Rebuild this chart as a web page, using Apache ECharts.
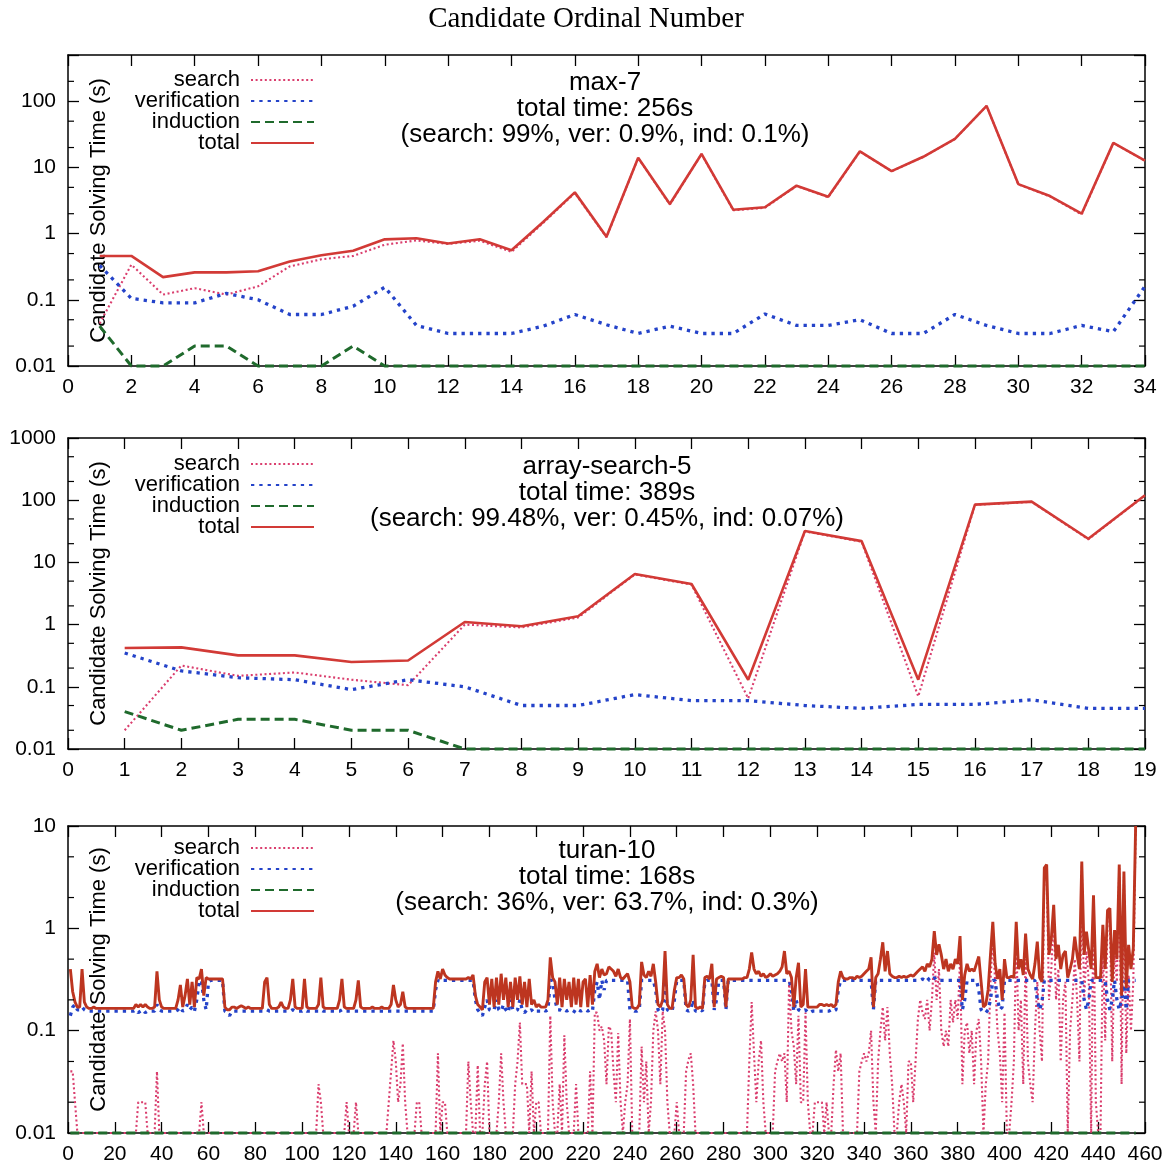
<!DOCTYPE html>
<html><head><meta charset="utf-8">
<script src="https://cdn.jsdelivr.net/npm/echarts/dist/echarts.min.js"></script>
<style>html,body{margin:0;padding:0;background:#fff}#main{width:1172px;height:1170px}</style>
</head><body><div id="main"></div>
<script>
// ---------------- Panel 1: max-7 ----------------
const max7X = [1,2,3,4,5,6,7,8,9,10,11,12,13,14,15,16,17,18,19,20,21,22,23,24,25,26,27,28,29,30,31,32,33,34];
const max7Search = [0.044,0.34,0.12,0.15,0.12,0.16,0.32,0.41,0.46,0.68,0.79,0.7,0.78,0.53,1.45,4.1,0.88,13.9,2.75,15.9,2.25,2.45,5.25,3.55,17.4,8.75,14.4,26.9,84.9,5.55,3.65,1.95,23.4,12.6];
const max7Verification = [0.33,0.105,0.09,0.09,0.125,0.1,0.06,0.06,0.08,0.155,0.041,0.031,0.031,0.031,0.04,0.06,0.042,0.031,0.04,0.031,0.031,0.061,0.041,0.041,0.05,0.031,0.031,0.06,0.041,0.031,0.031,0.041,0.033,0.16];
const max7Induction = [0.04,0.01,0.01,0.02,0.02,0.01,0.01,0.01,0.02,0.01,0.01,0.01,0.01,0.01,0.01,0.01,0.01,0.01,0.01,0.01,0.01,0.01,0.01,0.01,0.01,0.01,0.01,0.01,0.01,0.01,0.01,0.01,0.01,0.01];
const max7Total = [0.46,0.46,0.22,0.26,0.26,0.27,0.38,0.47,0.55,0.82,0.85,0.71,0.82,0.56,1.5,4.2,0.9,14,2.8,16,2.3,2.5,5.3,3.6,17.5,8.8,14.5,27,85,5.6,3.7,2.0,23.5,12.7];
const max7Minor = [0.02,0.05,0.2,0.5,2,5,20,50,200];

// ---------------- Panel 2: array-search-5 ----------------
const arrX = [1,2,3,4,5,6,7,8,9,10,11,12,13,14,15,16,17,18,19];
const arrSearch = [0.02,0.22,0.15,0.17,0.13,0.106,1.0,0.9,1.3,6.4,4.4,0.065,31.5,21.5,0.07,84,94,23.5,119];
const arrVerification = [0.35,0.18,0.14,0.13,0.09,0.13,0.1,0.05,0.05,0.075,0.06,0.06,0.05,0.045,0.052,0.052,0.062,0.045,0.045];
const arrInduction = [0.04,0.02,0.03,0.03,0.02,0.02,0.01,0.01,0.01,0.01,0.01,0.01,0.01,0.01,0.01,0.01,0.01,0.01,0.01];
const arrTotal = [0.42,0.43,0.32,0.32,0.25,0.265,1.1,0.94,1.36,6.5,4.5,0.13,32,22,0.13,85,95,24,120];
const arrMinor = [0.02,0.05,0.2,0.5,2,5,20,50,200,500];

// ---------------- Panel 3: turan-10 (candidates 1..456) ----------------
const turanVerification = [
.14,.17,.18,.16,.16,.17,.16,.155,.155,.155,.155,.155,.155,.155,.155,.155,.155,.155,.155,.155,
.155,.155,.155,.155,.155,.155,.155,.155,.16,.15,.155,.16,.15,.155,.155,.155,.155,.18,.16,.155,
.155,.155,.155,.155,.155,.155,.16,.17,.155,.16,.18,.16,.17,.155,.2,.3,.31,.2,.16,.3,
.31,.31,.31,.31,.31,.31,.155,.15,.14,.155,.155,.155,.155,.155,.155,.155,.155,.155,.155,.155,
.155,.155,.155,.155,.16,.155,.155,.155,.155,.155,.155,.155,.155,.155,.155,.16,.155,.155,.155,.155,
.16,.155,.155,.155,.155,.155,.155,.16,.155,.155,.155,.155,.155,.155,.155,.155,.16,.155,.155,.155,
.155,.155,.155,.155,.155,.155,.155,.155,.155,.155,.155,.155,.155,.155,.155,.155,.155,.155,.155,.155,
.155,.155,.155,.155,.155,.155,.155,.155,.155,.155,.155,.155,.155,.155,.155,.155,.25,.31,.3,.31,
.31,.31,.31,.31,.31,.31,.31,.31,.31,.31,.31,.31,.31,.2,.16,.15,.14,.17,.2,.16,
.155,.16,.2,.16,.155,.18,.16,.15,.2,.16,.155,.16,.2,.16,.15,.16,.155,.16,.15,.155,
.155,.155,.16,.155,.16,.31,.31,.2,.16,.16,.155,.16,.155,.16,.16,.155,.15,.16,.155,.16,
.16,.155,.16,.155,.25,.3,.2,.31,.25,.31,.31,.31,.31,.31,.31,.31,.31,.31,.31,.16,
.16,.155,.155,.16,.31,.31,.31,.31,.31,.31,.25,.16,.15,.16,.31,.16,.155,.155,.2,.31,
.31,.31,.31,.16,.155,.16,.2,.155,.155,.16,.155,.3,.31,.31,.31,.16,.2,.31,.31,.31,
.16,.31,.31,.31,.31,.31,.31,.31,.31,.31,.31,.31,.31,.31,.31,.31,.31,.31,.31,.31,
.31,.31,.31,.31,.31,.31,.31,.31,.25,.155,.2,.16,.155,.155,.16,.15,.15,.155,.155,.155,
.155,.155,.155,.155,.155,.16,.155,.16,.25,.31,.31,.31,.31,.31,.31,.31,.31,.31,.31,.31,
.31,.31,.31,.16,.31,.31,.31,.31,.31,.31,.31,.31,.31,.31,.31,.31,.31,.31,.31,.31,
.31,.31,.31,.31,.32,.31,.33,.31,.31,.33,.31,.31,.31,.31,.31,.31,.31,.31,.31,.31,
.31,.16,.2,.31,.31,.31,.31,.31,.25,.16,.15,.15,.16,.2,.31,.31,.2,.16,.17,.31,
.31,.31,.31,.31,.31,.31,.31,.31,.31,.31,.31,.31,.31,.2,.16,.19,.31,.31,.31,.31,
.31,.31,.31,.31,.31,.31,.31,.31,.31,.31,.31,.31,.31,.2,.16,.2,.31,.31,.31,.31,
.31,.31,.31,.2,.16,.2,.31,.2,.16,.2,.31,.16,.31,.31,.31,.31];
const turanTotal = [
.40,.24,.19,.17,.17,.40,.19,.17,.165,.165,.17,.165,.165,.165,.165,.165,.165,.165,.165,.165,
.165,.165,.165,.165,.165,.165,.165,.165,.18,.17,.18,.17,.18,.17,.165,.165,.17,.38,.2,.17,
.165,.165,.165,.165,.165,.165,.2,.28,.17,.22,.32,.18,.3,.17,.33,.32,.4,.22,.33,.32,
.32,.32,.32,.32,.32,.32,.17,.16,.16,.17,.17,.165,.17,.175,.17,.165,.17,.165,.165,.165,
.165,.165,.165,.3,.33,.18,.165,.165,.165,.17,.19,.17,.165,.165,.2,.32,.17,.165,.165,.165,
.32,.17,.165,.165,.165,.165,.18,.33,.17,.165,.165,.165,.165,.165,.165,.2,.32,.17,.165,.165,
.165,.165,.2,.31,.17,.165,.165,.165,.165,.17,.165,.165,.165,.17,.165,.165,.165,.18,.28,.2,
.17,.18,.24,.17,.165,.165,.165,.165,.165,.165,.165,.165,.165,.165,.165,.165,.3,.38,.32,.4,
.35,.33,.32,.32,.32,.32,.32,.32,.32,.32,.33,.32,.35,.22,.18,.17,.16,.3,.33,.18,
.32,.17,.33,.18,.36,.2,.33,.17,.3,.17,.33,.2,.34,.18,.3,.17,.32,.18,.2,.17,
.18,.17,.17,.17,.2,.52,.33,.3,.18,.33,.17,.32,.2,.3,.17,.33,.18,.32,.17,.3,
.32,.17,.35,.18,.38,.45,.33,.4,.35,.36,.42,.4,.38,.34,.4,.33,.32,.34,.36,.3,
.17,.165,.165,.18,.47,.35,.33,.38,.34,.45,.3,.18,.17,.2,.6,.18,.165,.165,.25,.33,
.33,.35,.32,.18,.17,.2,.55,.17,.165,.17,.165,.33,.34,.32,.45,.17,.32,.33,.34,.33,
.17,.32,.32,.32,.32,.32,.32,.32,.33,.33,.4,.58,.4,.36,.38,.34,.36,.33,.34,.36,
.34,.35,.36,.38,.42,.6,.36,.38,.33,.17,.33,.46,.17,.18,.4,.17,.17,.17,.17,.17,
.18,.18,.175,.18,.175,.18,.17,.18,.3,.38,.33,.32,.32,.33,.33,.32,.34,.33,.34,.36,
.38,.4,.52,.17,.33,.36,.5,.73,.38,.6,.36,.34,.33,.33,.34,.33,.34,.33,.34,.35,
.34,.36,.38,.4,.42,.38,.45,.42,.5,.94,.55,.7,.55,.4,.5,.38,.45,.4,.5,.45,
.84,.2,.35,.45,.38,.4,.38,.45,.53,.3,.17,.18,.25,.55,1.16,.45,.32,.4,.2,.5,
.33,.33,.34,.33,1.16,.4,.5,.35,.89,.4,.35,.32,.45,.74,.33,.3,3.9,4.2,.55,.8,
1.7,.5,.69,.4,.55,.6,.33,.4,.5,.83,.55,.4,4.5,.55,.93,.6,.4,2.1,.33,.33,
.33,1.08,.4,1.5,1.57,.3,.96,.5,4.2,.22,3.6,.26,.69,.4,.64,10];
const turanSearch = [
.04,.04,.02,.01,.01,.01,.01,.01,.01,.01,.01,.01,.01,.01,.01,.01,.01,.01,.01,.01,
.01,.01,.01,.01,.01,.01,.01,.01,.01,.02,.02,.02,.02,.01,.01,.01,.01,.04,.01,.01,
.01,.01,.01,.01,.01,.01,.01,.01,.01,.01,.01,.01,.01,.01,.01,.01,.02,.01,.01,.01,
.01,.01,.01,.01,.01,.01,.01,.01,.01,.01,.01,.01,.01,.01,.01,.01,.01,.01,.01,.01,
.01,.01,.01,.01,.01,.01,.01,.01,.01,.01,.01,.01,.01,.01,.01,.01,.01,.01,.01,.01,
.01,.01,.01,.01,.01,.01,.03,.02,.01,.01,.01,.01,.01,.01,.01,.01,.01,.01,.02,.01,
.01,.01,.02,.01,.01,.01,.01,.01,.01,.01,.01,.01,.01,.01,.01,.01,.02,.04,.08,.05,
.02,.03,.075,.02,.01,.01,.01,.01,.02,.02,.01,.01,.01,.01,.01,.01,.01,.06,.01,.02,
.02,.01,.01,.01,.01,.01,.01,.01,.01,.01,.05,.02,.01,.01,.046,.01,.01,.03,.05,.01,
.01,.01,.01,.02,.06,.02,.01,.01,.01,.01,.03,.05,.12,.03,.03,.03,.01,.04,.01,.02,
.02,.01,.01,.01,.01,.14,.02,.01,.01,.03,.01,.09,.02,.01,.01,.01,.03,.01,.01,.01,
.01,.01,.04,.01,.15,.15,.1,.11,.08,.03,.11,.1,.04,.02,.095,.02,.01,.02,.03,.13,
.01,.01,.01,.01,.07,.02,.05,.01,.02,.1,.155,.1,.03,.155,.1,.02,.01,.01,.01,.02,
.01,.01,.01,.04,.052,.06,.03,.01,.01,.01,.01,.01,.01,.01,.01,.01,.01,.01,.01,.01,
.01,.01,.01,.01,.01,.01,.01,.01,.01,.01,.05,.19,.06,.02,.05,.08,.02,.01,.01,.01,
.01,.04,.05,.06,.05,.06,.02,.3,.1,.07,.03,.14,.02,.02,.15,.02,.01,.01,.02,.02,
.02,.02,.01,.02,.01,.01,.03,.065,.04,.06,.01,.01,.01,.01,.01,.01,.01,.04,.05,.06,
.05,.06,.1,.02,.01,.05,.1,.17,.08,.17,.06,.03,.01,.01,.02,.03,.02,.01,.05,.05,
.02,.05,.13,.2,.15,.13,.2,.1,.2,.58,.2,.4,.1,.07,.1,.07,.2,.12,.2,.13,
.5,.03,.1,.12,.06,.1,.03,.1,.13,.05,.01,.03,.05,.3,.8,.3,.1,.06,.02,.15,
.01,.01,.02,.05,.8,.1,.2,.03,.5,.05,.03,.02,.1,.3,.1,.05,3.5,3.8,.2,.4,
1.4,.2,.4,.05,.2,.3,.01,.1,.2,.5,.2,.05,4.2,.2,.6,.3,.01,1.8,.02,.01,
.01,.7,.08,1.2,1.3,.05,.6,.3,4.0,.03,3.2,.06,.35,.1,.3,9.6];
const turanInduction = [
.01,.01,.01,.01,.01,.01,.01,.01,.01,.01,.01,.01,.01,.01,.01,.01,.01,.01,.01,.01,
.01,.01,.01,.01,.01,.01,.01,.01,.01,.01,.01,.01,.01,.01,.01,.01,.01,.01,.01,.01,
.01,.01,.01,.01,.01,.01,.01,.01,.01,.01,.01,.01,.01,.01,.01,.01,.01,.01,.01,.01,
.01,.01,.01,.01,.01,.01,.01,.01,.01,.01,.01,.01,.01,.01,.01,.01,.01,.01,.01,.01,
.01,.01,.01,.01,.01,.01,.01,.01,.01,.01,.01,.01,.01,.01,.01,.01,.01,.01,.01,.01,
.01,.01,.01,.01,.01,.01,.01,.01,.01,.01,.01,.01,.01,.01,.01,.01,.01,.01,.01,.01,
.01,.01,.01,.01,.01,.01,.01,.01,.01,.01,.01,.01,.01,.01,.01,.01,.01,.01,.01,.01,
.01,.01,.01,.01,.01,.01,.01,.01,.01,.01,.01,.01,.01,.01,.01,.01,.01,.01,.01,.01,
.01,.01,.01,.01,.01,.01,.01,.01,.01,.01,.01,.01,.01,.01,.01,.01,.01,.01,.01,.01,
.01,.01,.01,.01,.01,.01,.01,.01,.01,.01,.01,.01,.01,.01,.01,.01,.01,.01,.01,.01,
.01,.01,.01,.01,.01,.01,.01,.01,.01,.01,.01,.01,.01,.01,.01,.01,.01,.01,.01,.01,
.01,.01,.01,.01,.01,.01,.01,.01,.01,.01,.01,.01,.01,.01,.01,.01,.01,.01,.01,.01,
.01,.01,.01,.01,.01,.01,.01,.01,.01,.01,.01,.01,.01,.01,.01,.01,.01,.01,.01,.01,
.01,.01,.01,.01,.01,.01,.01,.01,.01,.01,.01,.01,.01,.01,.01,.01,.01,.01,.01,.01,
.01,.01,.01,.01,.01,.01,.01,.01,.01,.01,.01,.01,.01,.01,.01,.01,.01,.01,.01,.01,
.01,.01,.01,.01,.01,.01,.01,.01,.01,.01,.01,.01,.01,.01,.01,.01,.01,.01,.01,.01,
.01,.01,.01,.01,.01,.01,.01,.01,.01,.01,.01,.01,.01,.01,.01,.01,.01,.01,.01,.01,
.01,.01,.01,.01,.01,.01,.01,.01,.01,.01,.01,.01,.01,.01,.01,.01,.01,.01,.01,.01,
.01,.01,.01,.01,.01,.01,.01,.01,.01,.01,.01,.01,.01,.01,.01,.01,.01,.01,.01,.01,
.01,.01,.01,.01,.01,.01,.01,.01,.01,.01,.01,.01,.01,.01,.01,.01,.01,.01,.01,.01,
.01,.01,.01,.01,.01,.01,.01,.01,.01,.01,.01,.01,.01,.01,.01,.01,.01,.01,.01,.01,
.01,.01,.01,.01,.01,.01,.01,.01,.01,.01,.01,.01,.01,.01,.01,.01,.01,.01,.01,.01,
.01,.01,.01,.01,.01,.01,.01,.01,.01,.01,.01,.01,.01,.01,.01,.01];
const turanMinor = [0.02,0.05,0.2,0.5,2,5];

const seriesNames = ['search','verification','induction','total'];
const panelTexts = [
  ['max-7','total time: 256s','(search: 99%, ver: 0.9%, ind: 0.1%)'],
  ['array-search-5','total time: 389s','(search: 99.48%, ver: 0.45%, ind: 0.07%)'],
  ['turan-10','total time: 168s','(search: 36%, ver: 63.7%, ind: 0.3%)']
];

// ---------------- chart ----------------
const FONT = '"Liberation Sans", Arial, Helvetica, sans-serif';
const BLACK = '#000';
function fmtLog(v){ const l = Math.log10(v); if (Math.abs(l - Math.round(l)) > 1e-6) return ''; return String(+v.toPrecision(6)); }

const panels = [
  {grid:{left:68,right:27,top:55,height:311}, xMax:34, xInt:2, yMin:0.01, yMax:500, minor:max7Minor,
   xs:max7X, s:max7Search, v:max7Verification, i:max7Induction, t:max7Total, totalColor:'#d23a36', totalWidth:2.6, legendTop:64, textY:[83,109,135], textX:605},
  {grid:{left:68,right:27,top:438,height:311}, xMax:19, xInt:1, yMin:0.01, yMax:1000, minor:arrMinor,
   xs:arrX, s:arrSearch, v:arrVerification, i:arrInduction, t:arrTotal, totalColor:'#d23a36', totalWidth:2.6, legendTop:448, textY:[467,493,519], textX:607},
  {grid:{left:68,right:27,top:826,height:307}, xMax:460, xInt:20, yMin:0.01, yMax:10, minor:turanMinor,
   xs:null, s:turanSearch, v:turanVerification, i:turanInduction, t:turanTotal, totalColor:'#bd3520', totalWidth:2.9, legendTop:832, textY:[851,877,903], textX:607}
];

const grid=[], xAxis=[], yAxis=[], series=[], legend=[], graphic=[];
panels.forEach((p, k) => {
  grid.push(p.grid);
  const tickX = {show:true, inside:true, length:11, lineStyle:{color:BLACK, width:1.3}};
  const lineX = {show:true, onZero:false, lineStyle:{color:BLACK, width:1.5}};
  xAxis.push({type:'value', gridIndex:k, min:0, max:p.xMax, interval:p.xInt, position:'bottom',
    axisLine:lineX, axisTick:tickX, splitLine:{show:false},
    axisLabel:{color:BLACK, fontSize:21, fontFamily:FONT, margin:11}});
  xAxis.push({type:'value', gridIndex:k, min:0, max:p.xMax, interval:p.xInt, position:'top',
    axisLine:lineX, axisTick:tickX, splitLine:{show:false}, axisLabel:{show:false}});
  yAxis.push({type:'log', logBase:10, gridIndex:k, min:p.yMin, max:p.yMax, position:'left',
    axisLine:lineX, axisTick:tickX, splitLine:{show:false},
    axisLabel:{color:BLACK, fontSize:21, fontFamily:FONT, margin:12, formatter:fmtLog},
    name:'Candidate Solving Time (s)', nameLocation:'middle', nameGap:-42,
    nameTextStyle:{color:BLACK, fontSize:22, fontFamily:FONT}});
  yAxis.push({type:'log', logBase:10, gridIndex:k, min:p.yMin, max:p.yMax, position:'right',
    axisLine:lineX, axisTick:tickX, splitLine:{show:false}, axisLabel:{show:false}});

  const toPairs = arr => arr.map((y, j) => [p.xs ? p.xs[j] : j + 1, y]);
  const styles = [
    {name:'search', data:p.s, color:'#da3e6e', width:2.1, type:[2,2.6], z:2, clip:true},
    {name:'verification', data:p.v, color:'#2443c9', width:3.3, type:[3.3,5], z:3, clip:true},
    {name:'induction', data:p.i, color:'#1f6a2c', width:3, type:[9,5], z:4, clip:false},
    {name:'total', data:p.t, color:p.totalColor, width:p.totalWidth, type:'solid', z:5, clip:true}
  ];
  styles.forEach(st => {
    series.push({type:'line', name:st.name, xAxisIndex:2*k, yAxisIndex:2*k, data:toPairs(st.data),
      showSymbol:false, symbol:'none', z:st.z, clip:st.clip, animation:false,
      itemStyle:{color:st.color},
      lineStyle:{color:st.color, width:st.width, type:st.type}});
  });
  // minor ticks at 2x and 5x of each decade, placed through the y scale
  const xMaxK = p.xMax;
  series.push({type:'custom', name:'minor'+k, xAxisIndex:2*k, yAxisIndex:2*k, silent:true, z:6, animation:false,
    data:p.minor.map(m => [0, m]),
    renderItem:(params, api) => {
      const v = api.value(1);
      const a = api.coord([0, v]), b = api.coord([xMaxK, v]);
      return {type:'group', children:[
        {type:'line', shape:{x1:a[0], y1:a[1], x2:a[0]+6, y2:a[1]}, style:{stroke:BLACK, lineWidth:1.2}},
        {type:'line', shape:{x1:b[0], y1:b[1], x2:b[0]-6, y2:b[1]}, style:{stroke:BLACK, lineWidth:1.2}}
      ]};
    }});

  legend.push({orient:'vertical', right:852, top:p.legendTop, itemWidth:63, itemHeight:14, itemGap:-1,
    align:'right', selectedMode:false, data:seriesNames,
    formatter: n => n + ' ',
    itemStyle:{color:'rgba(0,0,0,0)', borderWidth:0, borderColor:'rgba(0,0,0,0)'},
    textStyle:{color:BLACK, fontSize:22, fontFamily:FONT, lineHeight:21}});

  p.textY.forEach((y, j) => {
    graphic.push({type:'text', x:p.textX, y:y, silent:true,
      style:{text:panelTexts[k][j], fill:BLACK, font:'26px ' + FONT, align:'center', verticalAlign:'middle',
             textAlign:'center', textVerticalAlign:'middle'}});
  });
});

const chart = echarts.init(document.getElementById('main'), null, {renderer:'canvas'});
chart.setOption({
  backgroundColor:'#fff',
  animation:false,
  title:{text:'Candidate Ordinal Number', left:'center', top:0,
    textStyle:{fontFamily:'"Liberation Serif", "Times New Roman", serif', fontSize:29, fontWeight:'normal', color:BLACK}},
  grid, xAxis, yAxis, series, legend, graphic
});
</script></body></html>
